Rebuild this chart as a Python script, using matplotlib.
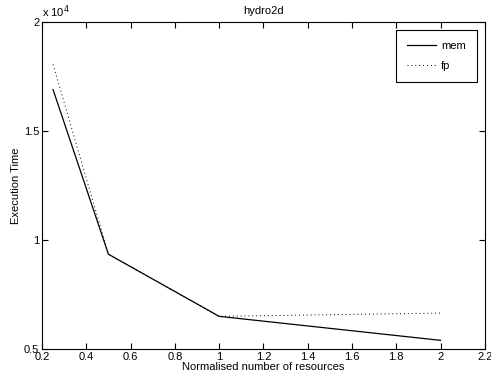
import numpy as np
import matplotlib.pyplot as plt
from matplotlib.ticker import FuncFormatter

plt.rcParams['font.family'] = ['Liberation Sans', 'DejaVu Sans']
plt.rcParams['font.size'] = 8

# datos
recursos = [0.25, 0.5, 1, 2]
mem = [16900, 9350, 6500, 5400]
fp = [18050, 9350, 6500, 6650]

fig = plt.figure(figsize=(4.91, 3.79), dpi=100)
ax = fig.add_axes([0.0855, 0.079, 0.902, 0.863])

ax.plot(recursos, mem, '-', color='black', linewidth=0.9, label='mem')
ax.plot(recursos, fp, linestyle=(0, (1, 3)), color='black', linewidth=0.7, label='fp')

ax.set_xlim(0.2, 2.2)
ax.set_ylim(5000, 20000)
ax.set_xticks(np.arange(0.2, 2.21, 0.2))
ax.xaxis.set_major_formatter(FuncFormatter(lambda v, p: f'{v:g}'))
ax.set_yticks([5000, 10000, 15000, 20000])
ax.yaxis.set_major_formatter(FuncFormatter(lambda v, p: f'{v/1e4:g}'))
ax.tick_params(direction='in', top=True, right=True, length=4, width=0.8, pad=2)
for s in ax.spines.values():
    s.set_linewidth(0.8)

ax.text(0.0, 1.005, r'x 10$^4$', transform=ax.transAxes, ha='left', va='bottom')
ax.set_title('hydro2d', fontsize=8, pad=6)
ax.set_xlabel('Normalised number of resources', labelpad=0)
ax.set_ylabel('Execution Time', labelpad=2)

leg = ax.legend(loc='upper right', fancybox=False, edgecolor='black',
                borderaxespad=0.7, borderpad=1.0, labelspacing=0.9,
                handlelength=2.6, handletextpad=0.5, framealpha=1)
leg.get_frame().set_linewidth(0.8)

fig.savefig('out.png', dpi=100)
